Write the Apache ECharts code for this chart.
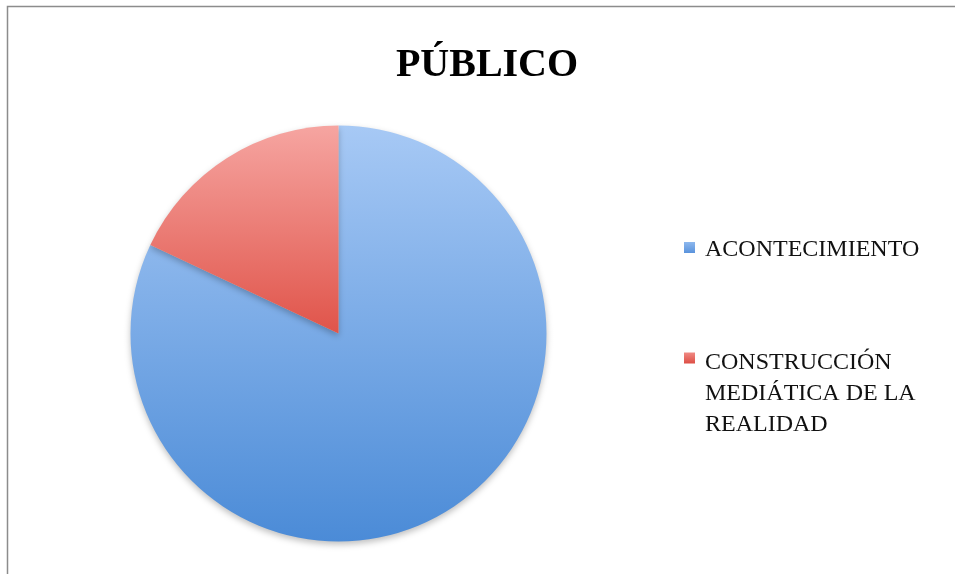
<!DOCTYPE html>
<html>
<head>
<meta charset="utf-8">
<script src="https://cdn.jsdelivr.net/npm/echarts@6/dist/echarts.min.js"></script>
<style>
html,body{margin:0;padding:0;background:#fff;}
#chart{width:955px;height:574px;}
</style>
</head>
<body>
<div id="chart"></div>
<script>
const title = 'PÚBLICO';
const categories = ['ACONTECIMIENTO', 'CONSTRUCCIÓN MEDIÁTICA DE LA REALIDAD'];
const legendLines = [['ACONTECIMIENTO'], ['CONSTRUCCIÓN', 'MEDIÁTICA DE LA', 'REALIDAD']];
const values = [82, 18];

const chart = echarts.init(document.getElementById('chart'), null, {renderer: 'canvas'});
const gradBlue = new echarts.graphic.LinearGradient(0, 0, 0, 1, [
  {offset: 0, color: '#a7c9f5'},
  {offset: 1, color: '#4b8bd7'}
]);
const gradRed = new echarts.graphic.LinearGradient(0, 0, 0, 1, [
  {offset: 0, color: '#f6a5a1'},
  {offset: 1, color: '#e0544a'}
]);
const fills = [gradBlue, gradRed];
const swatch = [
  new echarts.graphic.LinearGradient(0, 0, 0, 1, [{offset: 0, color: '#8db8ee'}, {offset: 1, color: '#5a93dc'}]),
  new echarts.graphic.LinearGradient(0, 0, 0, 1, [{offset: 0, color: '#f08a84'}, {offset: 1, color: '#dd4e45'}])
];

function legendFor(i, top, spacer) {
  return {
    orient: 'vertical',
    left: 684,
    top: top,
    padding: 0,
    itemWidth: 11,
    itemHeight: 11,
    icon: 'rect',
    selectedMode: false,
    textStyle: {
      fontFamily: 'Liberation Serif',
      fontSize: 24,
      color: '#111',
      lineHeight: 31,
      padding: [0, 0, 0, 5],
      rich: {
        e: {fontSize: 1, lineHeight: spacer, fontFamily: 'Liberation Serif'},
        t: {fontFamily: 'Liberation Serif', fontSize: 24, lineHeight: 31, color: '#111'}
      }
    },
    data: [{name: categories[i], itemStyle: {color: swatch[i]}}],
    formatter: function (name) {
      const lines = legendLines[categories.indexOf(name)];
      return '{e| }\n' + lines.map(l => '{t|' + l + '}').join('\n');
    }
  };
}

const option = {
  backgroundColor: '#ffffff',
  animation: false,
  title: {
    text: title,
    left: 482,
    textAlign: 'center',
    top: 41,
    textStyle: {
      fontFamily: 'Liberation Serif',
      fontWeight: 'bold',
      fontSize: 40,
      color: '#000'
    }
  },
  legend: [legendFor(0, 230, 4), legendFor(1, 275.5, 72)],
  graphic: [{
    type: 'rect',
    shape: {x: 7.5, y: 6.5, width: 1000, height: 1000},
    style: {fill: 'none', stroke: '#8c8c8c', lineWidth: 1.5},
    silent: true,
    z: -1
  }],
  series: [{
    type: 'pie',
    center: [338.5, 333.5],
    radius: 208,
    startAngle: 90,
    clockwise: true,
    label: {show: false},
    labelLine: {show: false},
    itemStyle: {
      shadowBlur: 6,
      shadowOffsetY: 3,
      shadowColor: 'rgba(0,0,0,0.25)'
    },
    emphasis: {disabled: true},
    data: categories.map((c, i) => ({
      name: c,
      value: values[i],
      itemStyle: {color: fills[i]}
    }))
  }]
};
chart.setOption(option);
</script>
</body>
</html>
